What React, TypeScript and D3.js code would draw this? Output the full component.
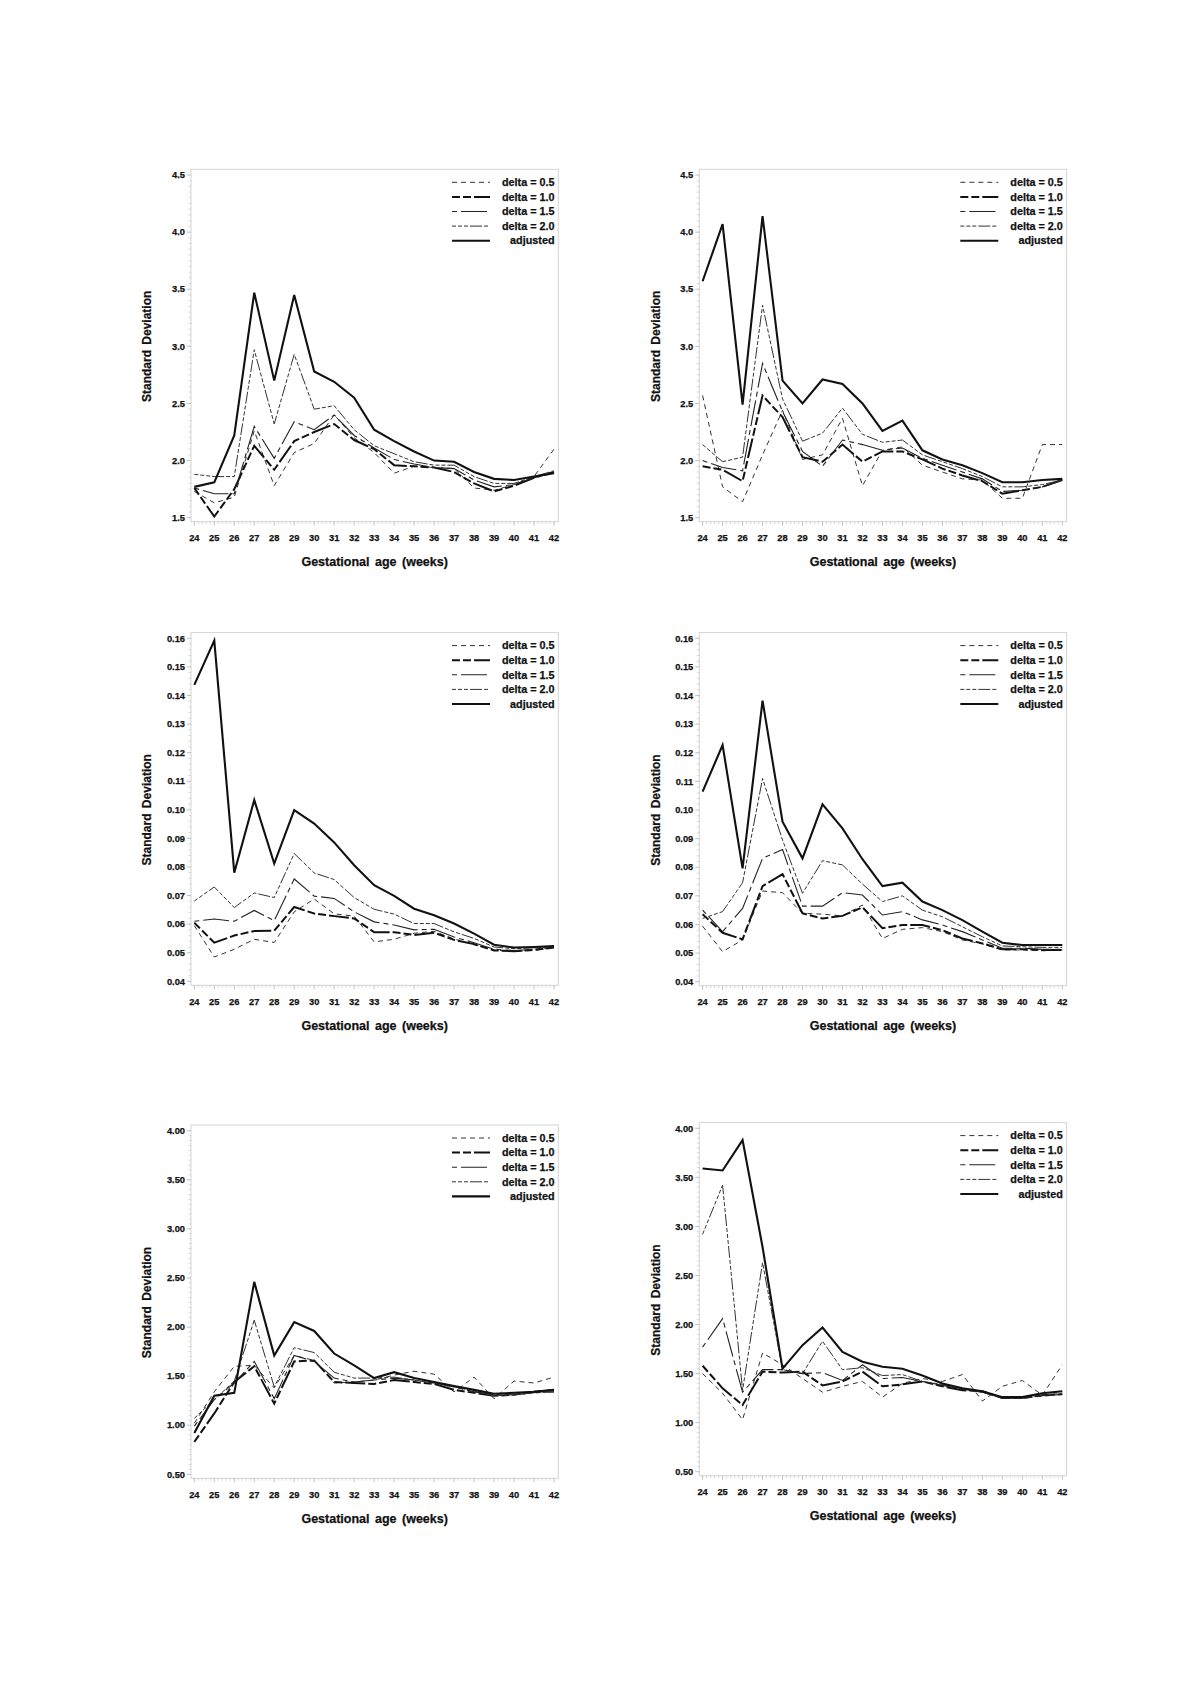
import * as d3 from "d3";
import React, { useEffect, useRef } from "react";

// gestational age (weeks)
const weeks = [24, 25, 26, 27, 28, 29, 30, 31, 32, 33, 34, 35, 36, 37, 38, 39, 40, 41, 42];

const seriesLabels = ["delta = 0.5", "delta = 1.0", "delta = 1.5", "delta = 2.0", "adjusted"];

// panel 1 (top left)
const p1Delta05 = [1.73, 1.63, 1.68, 2.26, 1.78, 2.07, 2.15, 2.40, 2.20, 2.07, 1.89, 1.95, 1.94, 1.93, 1.76, 1.74, 1.79, 1.86, 2.10];
const p1Delta10 = [1.76, 1.51, 1.75, 2.13, 1.92, 2.17, 2.25, 2.32, 2.18, 2.10, 1.96, 1.95, 1.94, 1.90, 1.80, 1.73, 1.78, 1.85, 1.90];
const p1Delta15 = [1.76, 1.71, 1.71, 2.30, 2.02, 2.34, 2.27, 2.40, 2.22, 2.11, 2.01, 1.97, 1.94, 1.93, 1.83, 1.77, 1.79, 1.85, 1.89];
const p1Delta20 = [1.88, 1.86, 1.86, 2.97, 2.32, 2.93, 2.45, 2.48, 2.27, 2.13, 2.06, 1.99, 1.96, 1.96, 1.86, 1.80, 1.80, 1.86, 1.91];
const p1Adjusted = [1.77, 1.81, 2.22, 3.47, 2.70, 3.45, 2.78, 2.69, 2.55, 2.27, 2.17, 2.08, 2.00, 1.99, 1.90, 1.84, 1.83, 1.86, 1.89];

// panel 2 (top right)
const p2Delta05 = [2.57, 1.77, 1.64, 2.05, 2.44, 2.01, 2.05, 2.37, 1.78, 2.09, 2.12, 1.96, 1.90, 1.84, 1.83, 1.67, 1.67, 2.14, 2.14];
const p2Delta10 = [1.95, 1.92, 1.82, 2.57, 2.38, 2.03, 1.99, 2.14, 1.99, 2.08, 2.08, 2.01, 1.93, 1.87, 1.82, 1.71, 1.74, 1.77, 1.83];
const p2Delta15 = [2.00, 1.94, 1.91, 2.85, 2.43, 2.08, 1.95, 2.18, 2.14, 2.09, 2.11, 2.02, 1.96, 1.90, 1.84, 1.73, 1.74, 1.77, 1.83];
const p2Delta20 = [2.14, 1.99, 2.03, 3.36, 2.54, 2.17, 2.24, 2.46, 2.23, 2.16, 2.18, 2.05, 1.99, 1.93, 1.86, 1.77, 1.77, 1.79, 1.83];
const p2Adjusted = [3.57, 4.07, 2.49, 4.14, 2.70, 2.50, 2.71, 2.67, 2.50, 2.26, 2.35, 2.09, 2.01, 1.96, 1.89, 1.81, 1.81, 1.83, 1.84];

// panel 3 (middle left)
const p3Delta05 = [0.0595, 0.0485, 0.0512, 0.0547, 0.0536, 0.0643, 0.0688, 0.0636, 0.0628, 0.0538, 0.0547, 0.0568, 0.0575, 0.0548, 0.0528, 0.0510, 0.0505, 0.0508, 0.0518];
const p3Delta10 = [0.0605, 0.0535, 0.0560, 0.0576, 0.0577, 0.0660, 0.0637, 0.0628, 0.0620, 0.0572, 0.0572, 0.0562, 0.0570, 0.0545, 0.0530, 0.0508, 0.0505, 0.0510, 0.0518];
const p3Delta15 = [0.0610, 0.0618, 0.0610, 0.0648, 0.0612, 0.0758, 0.0698, 0.0690, 0.0643, 0.0608, 0.0597, 0.0580, 0.0582, 0.0555, 0.0535, 0.0512, 0.0508, 0.0512, 0.0520];
const p3Delta20 = [0.0681, 0.0730, 0.0658, 0.0709, 0.0693, 0.0847, 0.0779, 0.0756, 0.0693, 0.0652, 0.0635, 0.0602, 0.0602, 0.0573, 0.0550, 0.0520, 0.0514, 0.0517, 0.0520];
const p3Adjusted = [0.1437, 0.1592, 0.0780, 0.1034, 0.0812, 0.0999, 0.0952, 0.0886, 0.0806, 0.0736, 0.0699, 0.0654, 0.0631, 0.0602, 0.0567, 0.0528, 0.0518, 0.0520, 0.0523];

// panel 4 (middle right)
const p4Delta05 = [0.0594, 0.0505, 0.0546, 0.0717, 0.0711, 0.0639, 0.0636, 0.0630, 0.0668, 0.0551, 0.0583, 0.0589, 0.0575, 0.0546, 0.0532, 0.0511, 0.0511, 0.0508, 0.0511];
const p4Delta10 = [0.0636, 0.0571, 0.0548, 0.0734, 0.0776, 0.0639, 0.0621, 0.0630, 0.0660, 0.0587, 0.0598, 0.0598, 0.0580, 0.0551, 0.0534, 0.0513, 0.0513, 0.0511, 0.0511];
const p4Delta15 = [0.0650, 0.0575, 0.0656, 0.0831, 0.0862, 0.0664, 0.0664, 0.0711, 0.0703, 0.0633, 0.0645, 0.0616, 0.0598, 0.0575, 0.0546, 0.0517, 0.0517, 0.0513, 0.0513];
const p4Delta20 = [0.0621, 0.0645, 0.0746, 0.1110, 0.0895, 0.0709, 0.0823, 0.0808, 0.0741, 0.0680, 0.0700, 0.0650, 0.0627, 0.0592, 0.0557, 0.0525, 0.0522, 0.0520, 0.0520];
const p4Adjusted = [0.1064, 0.1227, 0.0796, 0.1382, 0.0959, 0.0831, 0.1020, 0.0936, 0.0828, 0.0734, 0.0746, 0.0680, 0.0650, 0.0615, 0.0575, 0.0536, 0.0528, 0.0528, 0.0528];

// panel 5 (bottom left)
const p5Delta05 = [1.02, 1.34, 1.60, 1.61, 1.38, 1.71, 1.66, 1.43, 1.44, 1.46, 1.51, 1.55, 1.52, 1.34, 1.49, 1.27, 1.45, 1.43, 1.49];
const p5Delta10 = [0.83, 1.12, 1.44, 1.60, 1.22, 1.65, 1.66, 1.44, 1.43, 1.42, 1.46, 1.44, 1.42, 1.36, 1.33, 1.30, 1.31, 1.34, 1.36];
const p5Delta15 = [0.99, 1.26, 1.43, 1.65, 1.27, 1.71, 1.65, 1.48, 1.44, 1.46, 1.48, 1.46, 1.43, 1.39, 1.34, 1.31, 1.31, 1.33, 1.34];
const p5Delta20 = [1.07, 1.26, 1.45, 2.07, 1.39, 1.79, 1.74, 1.54, 1.48, 1.48, 1.49, 1.46, 1.43, 1.39, 1.35, 1.30, 1.31, 1.33, 1.34];
const p5Adjusted = [0.92, 1.30, 1.33, 2.46, 1.71, 2.05, 1.96, 1.73, 1.61, 1.48, 1.54, 1.48, 1.44, 1.40, 1.36, 1.32, 1.33, 1.34, 1.36];

// panel 6 (bottom right)
const p6Delta05 = [1.50, 1.30, 1.03, 1.71, 1.59, 1.45, 1.31, 1.37, 1.42, 1.26, 1.40, 1.45, 1.42, 1.49, 1.22, 1.37, 1.43, 1.28, 1.59];
const p6Delta10 = [1.58, 1.35, 1.18, 1.52, 1.51, 1.52, 1.38, 1.42, 1.52, 1.37, 1.39, 1.42, 1.37, 1.33, 1.32, 1.25, 1.25, 1.28, 1.29];
const p6Delta15 = [1.77, 2.06, 1.31, 1.54, 1.54, 1.50, 1.51, 1.43, 1.59, 1.45, 1.46, 1.42, 1.38, 1.34, 1.31, 1.25, 1.25, 1.27, 1.29];
const p6Delta20 = [2.92, 3.42, 1.33, 2.63, 1.54, 1.50, 1.83, 1.54, 1.56, 1.48, 1.49, 1.42, 1.39, 1.34, 1.31, 1.25, 1.25, 1.28, 1.30];
const p6Adjusted = [3.59, 3.57, 3.88, 2.79, 1.55, 1.79, 1.97, 1.72, 1.62, 1.57, 1.55, 1.48, 1.40, 1.35, 1.32, 1.26, 1.26, 1.30, 1.32];

// y axis tick values
const yTicksSD = [1.5, 2.0, 2.5, 3.0, 3.5, 4.0, 4.5];
const yTicksSmall = [0.04, 0.05, 0.06, 0.07, 0.08, 0.09, 0.10, 0.11, 0.12, 0.13, 0.14, 0.15, 0.16];
const yTicksWide = [0.5, 1.0, 1.5, 2.0, 2.5, 3.0, 3.5, 4.0];

const lineStyles = [
  { dash: "5,4", width: 1, color: "#333" },
  { dash: "8,3,8,3,20,3", width: 2, color: "#111" },
  { dash: "5,4,26,4", width: 1.1, color: "#222" },
  { dash: "4,2,4,2,4,2,12,2", width: 1, color: "#333" },
  { dash: null, width: 2.1, color: "#111" },
];

const FONT = "'Liberation Sans', Arial, Helvetica, sans-serif";

interface PanelProps {
  left: number; // frame left edge
  tickTop: number; // pixel of the top y tick
  tickBottom: number; // pixel of the bottom y tick
  yTicks: number[];
  fmt: string;
  minorPerMajor: number;
  series: number[][];
}

// bold text with a hairline stroke so it looks as heavy as the original
const boldText = (sel: d3.Selection<SVGTextElement, any, any, any>, size: number) =>
  sel
    .attr("font-family", FONT)
    .attr("font-weight", "700")
    .attr("font-size", `${size}px`)
    .attr("fill", "#111")
    .attr("stroke", "#111")
    .attr("stroke-width", 0.25);

const Panel: React.FC<PanelProps> = ({ left, tickTop, tickBottom, yTicks, fmt, minorPerMajor, series }) => {
  const ref = useRef<SVGGElement>(null);

  useEffect(() => {
    const g = d3.select(ref.current);
    g.selectAll("*").remove();

    const width = 367.3;
    const frameTop = tickTop - 5.7;
    const frameBottom = tickBottom + 4;

    const x = d3.scaleLinear().domain([24, 42]).range([left + 3.3, left + 363]);
    const y = d3
      .scaleLinear()
      .domain([yTicks[0], yTicks[yTicks.length - 1]])
      .range([tickBottom, tickTop]);

    // frame
    g.append("rect")
      .attr("x", left)
      .attr("y", frameTop)
      .attr("width", width)
      .attr("height", frameBottom - frameTop)
      .attr("fill", "none")
      .attr("stroke", "#d4d4d4")
      .attr("stroke-width", 1);

    // y minor ticks
    const step = yTicks[1] - yTicks[0];
    const minors: number[] = [];
    for (let i = 0; i < yTicks.length - 1; i++) {
      for (let k = 1; k < minorPerMajor; k++) minors.push(yTicks[i] + (step * k) / minorPerMajor);
    }
    g.selectAll(".yminor")
      .data(minors)
      .enter()
      .append("line")
      .attr("x1", left - 2.5)
      .attr("x2", left)
      .attr("y1", (d) => y(d))
      .attr("y2", (d) => y(d))
      .attr("stroke", "#c8c8c8")
      .attr("stroke-width", 0.7);

    g.selectAll(".ymajor")
      .data(yTicks)
      .enter()
      .append("line")
      .attr("x1", left - 4)
      .attr("x2", left)
      .attr("y1", (d) => y(d))
      .attr("y2", (d) => y(d))
      .attr("stroke", "#b0b0b0")
      .attr("stroke-width", 0.8);

    boldText(
      g.selectAll(".ylabel")
        .data(yTicks)
        .enter()
        .append("text")
        .attr("x", left - 6)
        .attr("y", (d) => y(d))
        .attr("dy", "0.35em")
        .attr("text-anchor", "end"),
      9.3,
    ).text((d) => d3.format(fmt)(d));

    // x ticks
    const xMinor: number[] = [];
    for (let i = 0; i < weeks.length - 1; i++) {
      for (let k = 1; k < 5; k++) xMinor.push(weeks[i] + k / 5);
    }
    g.selectAll(".xminor")
      .data(xMinor)
      .enter()
      .append("line")
      .attr("x1", (d) => x(d))
      .attr("x2", (d) => x(d))
      .attr("y1", frameBottom)
      .attr("y2", frameBottom + 2.5)
      .attr("stroke", "#c8c8c8")
      .attr("stroke-width", 0.7);

    g.selectAll(".xmajor")
      .data(weeks)
      .enter()
      .append("line")
      .attr("x1", (d) => x(d))
      .attr("x2", (d) => x(d))
      .attr("y1", frameBottom)
      .attr("y2", frameBottom + 4)
      .attr("stroke", "#b0b0b0")
      .attr("stroke-width", 0.8);

    boldText(
      g.selectAll(".xlabel")
        .data(weeks)
        .enter()
        .append("text")
        .attr("x", (d) => x(d))
        .attr("y", tickBottom + 20.4)
        .attr("dy", "0.35em")
        .attr("text-anchor", "middle"),
      9.3,
    ).text((d) => String(d));

    // axis titles
    boldText(
      g.append("text")
        .attr("x", left + width / 2)
        .attr("y", tickBottom + 44)
        .attr("dy", "0.35em")
        .attr("text-anchor", "middle")
        .attr("word-spacing", "2px"),
      12.5,
    ).text("Gestational age (weeks)");

    boldText(
      g.append("text")
        .attr("transform", `translate(${left - 44},${(tickTop + tickBottom) / 2}) rotate(-90)`)
        .attr("dy", "0.35em")
        .attr("text-anchor", "middle")
        .attr("word-spacing", "2px"),
      12,
    ).text("Standard Deviation");

    // series lines
    const line = d3
      .line<number>()
      .x((_, i) => x(weeks[i]))
      .y((d) => y(d));

    series.forEach((values, i) => {
      const st = lineStyles[i];
      g.append("path")
        .attr("d", line(values) as string)
        .attr("fill", "none")
        .attr("stroke", st.color)
        .attr("stroke-width", st.width)
        .attr("stroke-linejoin", "miter")
        .attr("stroke-dasharray", st.dash ?? null);
    });

    // legend
    const lx = x(42);
    seriesLabels.forEach((label, i) => {
      const st = lineStyles[i];
      const ly = frameTop + 13 + i * 14.6;
      g.append("line")
        .attr("x1", lx - 102)
        .attr("x2", lx - 64)
        .attr("y1", ly)
        .attr("y2", ly)
        .attr("stroke", st.color)
        .attr("stroke-width", st.width)
        .attr("stroke-dasharray", st.dash ?? null);
      boldText(
        g.append("text")
          .attr("x", lx + 0.5)
          .attr("y", ly)
          .attr("dy", "0.35em")
          .attr("text-anchor", "end"),
        10.8,
      ).text(label);
    });
  }, [left, tickTop, tickBottom, yTicks, fmt, minorPerMajor, series]);

  return <g ref={ref}></g>;
};

const App: React.FC = () => {
  return (
    <svg
      width={1200}
      height={1697}
      style={{ position: "absolute", left: 0, top: 0, background: "#fff" }}
    >
      <rect x={0} y={0} width={1200} height={1697} fill="#fff" />
      <Panel
        left={191}
        tickTop={175}
        tickBottom={517.7}
        yTicks={yTicksSD}
        fmt=".1f"
        minorPerMajor={10}
        series={[p1Delta05, p1Delta10, p1Delta15, p1Delta20, p1Adjusted]}
      />
      <Panel
        left={699.3}
        tickTop={175}
        tickBottom={517.7}
        yTicks={yTicksSD}
        fmt=".1f"
        minorPerMajor={10}
        series={[p2Delta05, p2Delta10, p2Delta15, p2Delta20, p2Adjusted]}
      />
      <Panel
        left={191}
        tickTop={638.3}
        tickBottom={981.3}
        yTicks={yTicksSmall}
        fmt=".2f"
        minorPerMajor={5}
        series={[p3Delta05, p3Delta10, p3Delta15, p3Delta20, p3Adjusted]}
      />
      <Panel
        left={699.3}
        tickTop={638.3}
        tickBottom={981.7}
        yTicks={yTicksSmall}
        fmt=".2f"
        minorPerMajor={5}
        series={[p4Delta05, p4Delta10, p4Delta15, p4Delta20, p4Adjusted]}
      />
      <Panel
        left={191}
        tickTop={1130.7}
        tickBottom={1474.3}
        yTicks={yTicksWide}
        fmt=".2f"
        minorPerMajor={10}
        series={[p5Delta05, p5Delta10, p5Delta15, p5Delta20, p5Adjusted]}
      />
      <Panel
        left={699.3}
        tickTop={1128.3}
        tickBottom={1471.7}
        yTicks={yTicksWide}
        fmt=".2f"
        minorPerMajor={10}
        series={[p6Delta05, p6Delta10, p6Delta15, p6Delta20, p6Adjusted]}
      />
    </svg>
  );
};

export default App;
